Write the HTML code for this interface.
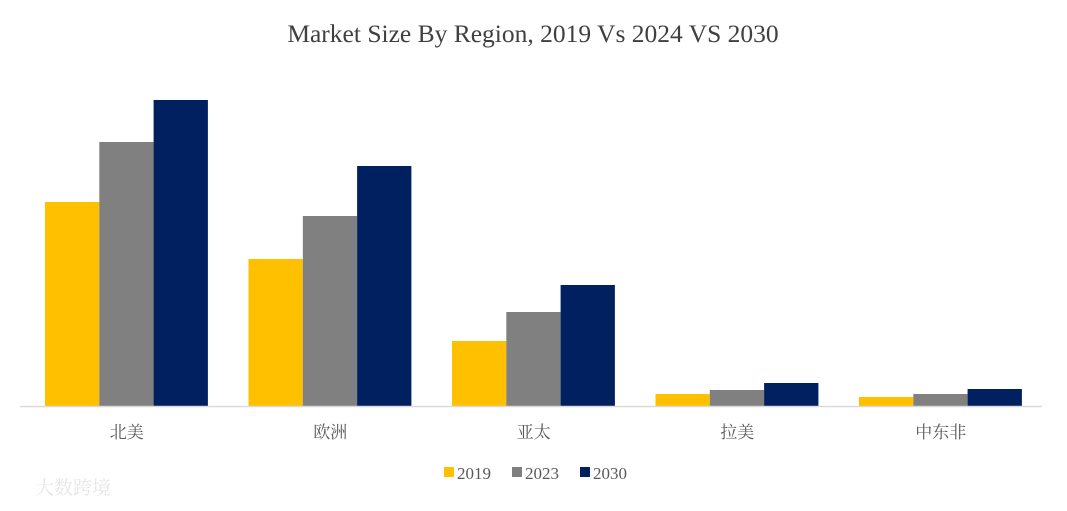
<!DOCTYPE html>
<html><head><meta charset="utf-8"><style>
body{margin:0;background:#fff;}
svg text{font-family:"Liberation Serif","Noto Serif CJK SC",serif;}
</style></head><body>
<svg id="c" width="1067" height="506">
<text x="533" y="42" text-anchor="middle" font-size="25.5" fill="#404040">Market Size By Region, 2019 Vs 2024 VS 2030</text>
<g id="bars"></g>
<line x1="20" x2="1042" y1="406.5" y2="406.5" stroke="#d9d9d9" stroke-width="1.5"/>
<g id="labels"></g>
<g id="legend"></g>
<text x="35" y="494" font-size="19" fill="#e6e6e6" font-family="Noto Sans CJK SC,sans-serif">大数跨境</text>
</svg>
<script>
const categories=["北美","欧洲","亚太","拉美","中东非"];
const series=["2019","2023","2030"];
const v2019=[204,147,65,12,9];
const v2023=[264,190,94,16,12];
const v2030=[306,240,121,23,17];
const colors=["#ffc000","#808080","#002060"];
const NS="http://www.w3.org/2000/svg";
const x0=20,base=406,bw=203.5;
const y=v=>base-v;
const vals=[v2019,v2023,v2030];
const bars=document.getElementById('bars'),labels=document.getElementById('labels'),legend=document.getElementById('legend');
categories.forEach((c,i)=>{
  const gx=x0+i*bw+25;
  vals.forEach((arr,s)=>{
    const r=document.createElementNS(NS,'rect');
    r.setAttribute('x',gx+s*54.3);r.setAttribute('width',54.3);
    r.setAttribute('y',y(arr[i]));r.setAttribute('height',arr[i]);
    r.setAttribute('fill',colors[s]);
    
    
    bars.appendChild(r);
  });
  const t=document.createElementNS(NS,'text');
  t.setAttribute('x',x0+i*bw+bw/2+5);t.setAttribute('y',438);
  t.setAttribute('text-anchor','middle');t.setAttribute('font-size','17');t.setAttribute('fill','#595959');
  t.textContent=c;
  
  
  labels.appendChild(t);
});
const lx=[444,512,580];
series.forEach((s,k)=>{
  const r=document.createElementNS(NS,'rect');
  r.setAttribute('x',lx[k]);r.setAttribute('y',467);r.setAttribute('width',10);r.setAttribute('height',10);r.setAttribute('fill',colors[k]);
  
  
  legend.appendChild(r);
  const t=document.createElementNS(NS,'text');
  t.setAttribute('x',lx[k]+13);t.setAttribute('y',479);t.setAttribute('font-size','17');t.setAttribute('fill','#595959');
  t.textContent=s;
  
  
  legend.appendChild(t);
});
</script>
</body></html>
